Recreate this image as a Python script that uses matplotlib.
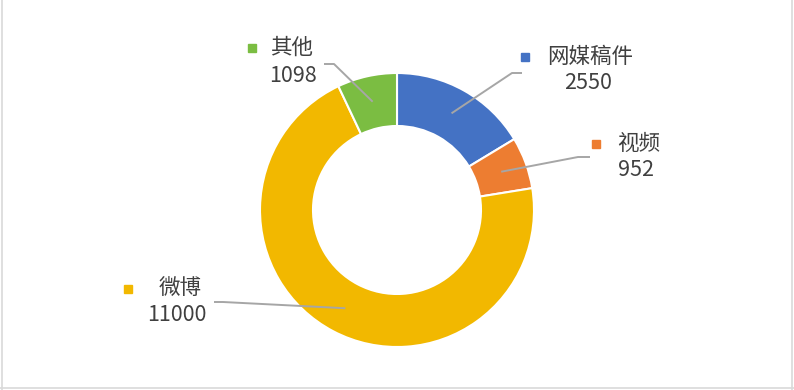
import numpy as np
import matplotlib.pyplot as plt
from matplotlib.lines import Line2D

plt.rcParams['font.family'] = ['Noto Sans CJK SC', 'DejaVu Sans']

# --- data ---
categories = ['网媒稿件', '视频', '微博', '其他']
values = [2550, 952, 11000, 1098]
colors = ['#4472C4', '#ED7D31', '#F2B800', '#7BBD42']

# label layout (pixel positions in the 794x390 image)
label_pos = {
    '网媒稿件': (590, 57),
    '视频': (639, 144),
    '微博': (180, 289),
    '其他': (292, 48),
}
value_pos = {
    '网媒稿件': (588, 83),
    '视频': (636, 170),
    '微博': (177, 315),
    '其他': (293, 76),
}
marker_pos = {
    '网媒稿件': (525, 57),
    '视频': (596, 144),
    '微博': (128, 289),
    '其他': (252, 48),
}
# leader line: start point and elbow
leader_pts = {
    '网媒稿件': [(522, 73), (512, 73)],
    '视频': [(590, 157), (578, 157)],
    '微博': [(214, 302), (223, 302)],
    '其他': [(324, 64), (334, 64)],
}

W, H = 794, 390
cx, cy, R, ring = 397, 210, 137, 53

fig = plt.figure(figsize=(W / 100, H / 100), dpi=100)
ax = fig.add_axes([0, 0, 1, 1])

def Y(py):
    return H - py

ax.pie(values, colors=colors, startangle=90, counterclock=False,
       radius=R, center=(cx, Y(cy)),
       wedgeprops=dict(width=ring, edgecolor='white', linewidth=1.5))
ax.set_xlim(0, W)
ax.set_ylim(0, H)
ax.set_aspect('equal')
ax.axis('off')

total = sum(values)
cum = 0
text_color = '#404040'
fs = 15.5
for cat, v, c in zip(categories, values, colors):
    mid = (cum + v / 2) / total * 360
    cum += v
    theta = np.deg2rad(90 - mid)
    r_anchor = R - ring / 2 + 0.5
    ax_x = cx + r_anchor * np.cos(theta)
    ax_y = Y(cy) + r_anchor * np.sin(theta)
    (sx, sy), (ex, ey) = leader_pts[cat]
    ax.plot([sx, ex, ax_x], [Y(sy), Y(ey), ax_y], color='#A6A6A6', lw=1.4,
            solid_capstyle='butt', zorder=5)
    mx, my = marker_pos[cat]
    ax.plot([mx], [Y(my)], marker='s', ms=6, color=c, mec=c, zorder=5)
    lx, ly = label_pos[cat]
    ax.text(lx, Y(ly), cat, ha='center', va='center', fontsize=fs, color=text_color)
    vx, vy = value_pos[cat]
    ax.text(vx, Y(vy), str(v), ha='center', va='center', fontsize=fs, color=text_color)

# chart border (left, right, bottom)
bc = '#D9D9D9'
fig.add_artist(Line2D([1.5 / W, 1.5 / W], [0, 1], color=bc, lw=1.2))
fig.add_artist(Line2D([792 / W, 792 / W], [0, 1], color=bc, lw=1.2))
fig.add_artist(Line2D([0, 1], [2 / H, 2 / H], color=bc, lw=1.2))

fig.savefig('out.png', dpi=100)
